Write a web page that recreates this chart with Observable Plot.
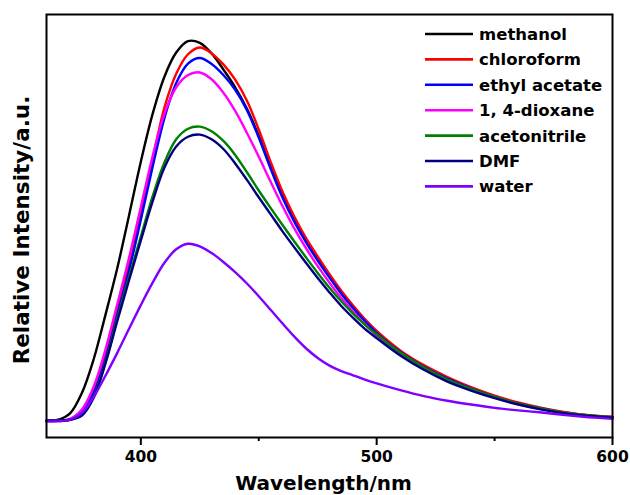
<!DOCTYPE html>
<html>
<head>
<meta charset="utf-8">
<script src="https://cdn.jsdelivr.net/npm/d3@7"></script>
<script src="https://cdn.jsdelivr.net/npm/@observablehq/plot@0.6"></script>
<style>
  html, body { margin: 0; padding: 0; background: #fff; }
  #wrap { position: relative; width: 630px; height: 495px; }
  #legend { position: absolute; left: 0; top: 0; pointer-events: none; }
</style>
</head>
<body>
<div id="wrap"></div>
<script>
// Wavelength (nm)
const wavelength = [360,365,370,375,380,385,390,395,400,405,410,415,420,425,430,435,440,445,450,455,460,465,470,475,480,485,490,495,500,510,520,530,540,550,560,570,580,590,600];

// Relative intensity (a.u.) per solvent
const methanol     = [40,42,57,105,185,290,400,525,652,765,853,910,937,933,908,870,828,777,713,640,572,515,465,421,380,342,307,276,248,203,168,141,117,97,81,69,59,52,48];
const chloroform   = [40,40,43,63,115,200,305,412,532,658,780,860,906,922,908,882,846,796,728,652,582,523,472,428,386,347,312,280,252,206,171,143,119,99,83,70,60,53,49];
const ethylAcetate = [40,40,42,58,105,185,290,395,515,640,755,838,884,897,883,857,822,774,709,636,568,511,462,418,378,340,306,275,247,202,167,139,116,96,80,68,58,51,47];
const dioxane      = [40,40,44,66,120,208,315,425,545,665,765,828,857,863,847,815,772,720,664,605,548,495,448,405,366,330,298,268,241,198,164,136,114,95,79,67,58,51,47];
const acetonitrile = [40,40,42,53,96,178,282,380,475,570,650,705,730,735,724,701,668,627,584,543,503,464,426,389,354,322,293,267,244,201,166,137,115,96,80,68,58,52,48];
const dmf          = [40,40,42,52,94,175,275,372,466,558,638,688,711,716,705,682,648,609,568,528,488,450,413,377,343,311,283,257,235,194,160,132,111,93,78,66,57,51,47];
const water        = [38,38,42,58,96,146,200,257,313,366,413,445,458,452,436,415,391,364,334,302,270,239,211,188,170,157,147,137,128,112,98,87,78,70,64,59,53,48,44];

const solvents = ["methanol", "chloroform", "ethyl acetate", "1, 4-dioxane", "acetonitrile", "DMF", "water"];
const colors   = ["#000000", "#ff0000", "#0000ff", "#ff00ff", "#008000", "#000080", "#8000ff"];
const seriesValues = [methanol, chloroform, ethylAcetate, dioxane, acetonitrile, dmf, water];

const majorTicks = [400, 500, 600];
const minorTicks = [450, 550];
const xLabel = "Wavelength/nm";
const yLabel = "Relative Intensity/a.u.";

const rows = [];
solvents.forEach((s, i) => {
  wavelength.forEach((w, j) => rows.push({solvent: s, wavelength: w, intensity: seriesValues[i][j]}));
});

const FONT = "DejaVu Sans, Arial, sans-serif";

const chart = Plot.plot({
  width: 630,
  height: 495,
  marginLeft: 46,
  marginRight: 18,
  marginTop: 14,
  marginBottom: 58,
  style: {fontFamily: FONT, background: "#fff", color: "#000"},
  x: {domain: [360, 600]},
  y: {domain: [0, 1000], axis: null},
  color: {domain: solvents, range: colors},
  marks: [
    Plot.line(rows, {x: "wavelength", y: "intensity", z: "solvent", stroke: "solvent", strokeWidth: 2.4, curve: "catmull-rom"}),
    Plot.axisX({ticks: majorTicks, tickSize: 8, tickPadding: 5, strokeWidth: 2, fontSize: 15.5, fontWeight: "bold", label: null, tickFormat: d => String(d)}),
    Plot.axisX({ticks: minorTicks, tickSize: 4, strokeWidth: 2, tickFormat: () => "", label: null}),
    Plot.frame({stroke: "#000", strokeWidth: 2}),
    Plot.text([xLabel], {frameAnchor: "bottom", dy: 46, dx: -6, textAnchor: "middle", lineAnchor: "middle", fontSize: 20, fontWeight: "bold", fill: "#000"}),
    Plot.text([yLabel], {frameAnchor: "left", dx: -24, dy: 4, rotate: -90, textAnchor: "middle", lineAnchor: "middle", fontSize: 21.5, fontWeight: "bold", fill: "#000"})
  ]
});

const wrap = document.getElementById("wrap");
wrap.appendChild(chart);

// Legend inside the plot frame (top right)
const ns = "http://www.w3.org/2000/svg";
const leg = document.createElementNS(ns, "svg");
leg.setAttribute("id", "legend");
leg.setAttribute("width", 630);
leg.setAttribute("height", 495);
const lx0 = 425, lx1 = 473, tx = 479, ly0 = 34, lstep = 25.4;
solvents.forEach((s, i) => {
  const y = ly0 + i * lstep;
  const ln = document.createElementNS(ns, "line");
  ln.setAttribute("x1", lx0); ln.setAttribute("x2", lx1);
  ln.setAttribute("y1", y); ln.setAttribute("y2", y);
  ln.setAttribute("stroke", colors[i]); ln.setAttribute("stroke-width", 2.6);
  leg.appendChild(ln);
  const t = document.createElementNS(ns, "text");
  t.setAttribute("x", tx); t.setAttribute("y", y + 6);
  t.setAttribute("font-family", FONT);
  t.setAttribute("font-size", 16.5);
  t.setAttribute("font-weight", "bold");
  t.setAttribute("fill", "#000");
  t.textContent = s;
  leg.appendChild(t);
});
wrap.appendChild(leg);
</script>
</body>
</html>
